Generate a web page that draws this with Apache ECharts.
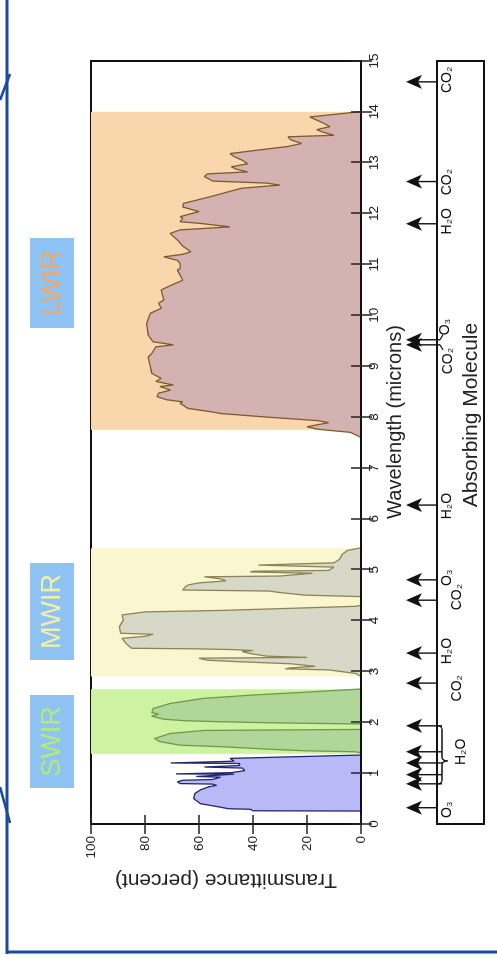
<!DOCTYPE html>
<html><head><meta charset="utf-8">
<script src="https://cdn.jsdelivr.net/npm/echarts@6/dist/echarts.min.js"></script>
<style>
html,body{margin:0;padding:0;width:497px;height:958px;overflow:hidden;background:#fff;}
#chart{position:absolute;left:0;top:0;width:958px;height:497px;transform-origin:0 0;transform:translate(0,958px) rotate(-90deg);}
</style></head><body><div id="chart"></div>
<script>
// ---- data: [wavelength (microns), transmittance (%)] ----
const visNirCurve = [[0.255,0],[0.26,40],[0.29,41],[0.30,49],[0.34,53],[0.40,59.5],[0.50,62],[0.60,61.5],[0.67,59.5],[0.73,56.5],[0.76,53.5],[0.785,55],[0.795,67],[0.83,68],[0.86,66],[0.875,55],[0.92,52],[0.935,61],[0.95,56],[0.98,47],[0.985,68.5],[1.0,69],[1.01,48],[1.05,43],[1.10,44],[1.12,58],[1.14,58],[1.15,45],[1.19,45],[1.20,70.5],[1.22,70.5],[1.235,47],[1.29,48.5],[1.356,0]];
const swirCurve = [[1.40,0],[1.42,2],[1.44,21],[1.47,34],[1.52,52],[1.55,67],[1.62,74.5],[1.68,76.5],[1.78,70.7],[1.84,58],[1.85,27],[1.86,0],[1.966,0],[1.99,34],[2.01,52],[2.03,65],[2.06,73],[2.12,77.5],[2.16,75],[2.19,77.5],[2.27,77],[2.37,70.7],[2.47,58.4],[2.536,40],[2.60,17.7],[2.654,0]];
const mwirCurve = [[2.9,0],[2.96,2],[3.03,12],[3.05,28],[3.07,26],[3.1,17],[3.15,26],[3.19,45],[3.22,57],[3.26,60],[3.275,20],[3.3,35],[3.35,41],[3.39,44],[3.41,40],[3.43,48],[3.445,63],[3.455,85],[3.5,86],[3.55,87],[3.65,88.5],[3.69,80],[3.73,77],[3.75,89],[3.88,89.5],[4.01,88],[4.11,88.5],[4.17,80],[4.2,51],[4.24,26],[4.28,2],[4.3,0],[4.47,0],[4.5,21],[4.55,30],[4.58,34],[4.6,66],[4.67,65],[4.7,64],[4.74,60],[4.78,50],[4.82,52],[4.86,58],[4.875,30],[4.93,18],[4.955,41],[4.97,40],[4.985,12],[5.05,10],[5.09,38],[5.12,38],[5.135,10],[5.2,8],[5.3,7],[5.38,5],[5.43,0]];
const lwirCurve = [[7.6,0],[7.7,4],[7.76,16],[7.81,20],[7.89,12],[7.93,16],[8.0,35],[8.07,52],[8.1,55],[8.17,64],[8.27,67],[8.3,66],[8.34,72],[8.4,75.5],[8.47,75],[8.53,70.5],[8.6,74.5],[8.63,69.5],[8.7,76],[8.76,74],[8.86,77.5],[8.99,78],[9.18,78.8],[9.25,77.5],[9.38,76],[9.42,69.5],[9.48,77],[9.61,78.8],[9.84,79.4],[10.04,78],[10.14,74],[10.24,75],[10.3,73],[10.5,74],[10.6,70],[10.69,66],[10.79,67],[10.89,68],[10.92,67],[11.02,67],[11.08,68],[11.15,73],[11.2,66],[11.25,63],[11.36,66],[11.48,68],[11.61,70.7],[11.68,67],[11.74,48.5],[11.81,60],[11.84,67],[11.91,66],[11.94,67],[12.04,60],[12.13,66],[12.2,65.8],[12.33,56],[12.46,47],[12.5,44],[12.56,30],[12.6,35],[12.64,55],[12.73,58],[12.78,57],[12.82,42],[12.87,46],[12.92,48],[12.98,42],[13.05,44],[13.12,47],[13.18,48.5],[13.25,38],[13.32,27],[13.38,22],[13.45,26],[13.51,27],[13.54,10],[13.6,14],[13.65,16.4],[13.71,11.5],[13.78,14],[13.9,19],[13.95,10],[14.0,1],[14.01,0]];

const bandNames = ['SWIR', 'MWIR', 'LWIR'];
const bandStart = [1.38, 2.9, 7.75];
const bandEnd = [2.65, 5.42, 14.0];

const wavelengthMin = 0, wavelengthMax = 15, wavelengthStep = 1;
const transMin = 0, transMax = 100, transStep = 20;

const arrowWl = [0.32, 0.79, 0.97, 1.2, 1.42, 1.93, 2.77, 3.36, 4.4, 4.8, 6.27, 9.42, 9.52, 11.8, 12.63, 14.59];
const molLabels = ['O₃', 'H₂O', 'CO₂', 'H₂O', 'CO₂', 'O₃', 'H₂O', 'CO₂', 'O₃', 'H₂O', 'CO₂', 'CO₂'];
const molLabelWl = [0.28, 1.42, 2.67, 3.4, 4.46, 4.84, 6.25, 9.1, 9.77, 11.85, 12.62, 14.63];
const braceRange = [0.79, 1.93, 1.24];   // start, end, tip
const connectorFrom = [9.42, 9.52];
const connectorTo = [9.32, 9.62];

// ---- styles / layout ----
const FONT = '"Liberation Sans", Arial, Helvetica, sans-serif';
const bandColors = ['#cdf3a2', '#faf6cf', '#fad6ac'];
const bandLabelColors = ['#b3ea78', '#f4efa6', '#f0a866'];
const bandBoxes = [[170, 93], [298, 97], [630, 90]];   // [u, length] of label boxes
const labelRowOffset = [10, 24, 20, 10, 20, 10, 10, 11, 8, 10, 10, 10];

const chart = echarts.init(document.getElementById('chart'), null, {renderer: 'canvas'});

function curveSeries(name, data, fill, stroke) {
  return {
    name: name, type: 'line', xAxisIndex: 0, yAxisIndex: 0, data: data,
    symbol: 'none', smooth: false, z: 3,
    lineStyle: {color: stroke, width: 1.3},
    areaStyle: {color: fill, opacity: 1}
  };
}

const bandAreas = bandNames.map((n, i) => [
  {xAxis: bandStart[i], yAxis: transMin, itemStyle: {color: bandColors[i], opacity: 1}},
  {xAxis: bandEnd[i], yAxis: transMax}
]);

const graphics = [];
bandNames.forEach((n, i) => {
  const b = bandBoxes[i];
  graphics.push({type: 'rect', z: 50, shape: {x: b[0], y: 30, width: b[1], height: 44}, style: {fill: '#8ec3f4'}});
  graphics.push({type: 'text', z: 51, x: b[0] + b[1] / 2, y: 53, style: {text: n, font: '27px ' + FONT, fill: bandLabelColors[i], align: 'center', verticalAlign: 'middle'}});
});
graphics.push({type: 'text', z: 51, x: 543, y: 471, style: {text: 'Absorbing Molecule', font: '21px ' + FONT, fill: '#222', align: 'center', verticalAlign: 'middle'}});
// slide frame
const blue = '#1b4c9c';
graphics.push({type: 'line', z: 60, shape: {x1: 4, y1: 7, x2: 958, y2: 7}, style: {stroke: blue, lineWidth: 3}});
graphics.push({type: 'line', z: 60, shape: {x1: 6, y1: 6, x2: 6, y2: 497}, style: {stroke: blue, lineWidth: 3}});
graphics.push({type: 'line', z: 60, shape: {x1: 858, y1: 0, x2: 884, y2: 10}, style: {stroke: blue, lineWidth: 2.5}});
graphics.push({type: 'line', z: 60, shape: {x1: 171, y1: 0, x2: 135, y2: 10}, style: {stroke: blue, lineWidth: 2.5}});

const tickStyle = {color: '#222', width: 1.5};
const labelStyle = {color: '#222', fontSize: 13.5, fontFamily: FONT};

chart.setOption({
  animation: false,
  backgroundColor: '#fff',
  graphic: graphics,
  grid: [
    {left: 134, right: 61, top: 91, bottom: 136, show: true, borderColor: '#111', borderWidth: 2, backgroundColor: 'transparent', containLabel: false, outerBoundsMode: 'none'},
    {left: 134, right: 61, top: 437, height: 47, show: true, borderColor: '#111', borderWidth: 2, backgroundColor: 'transparent', containLabel: false, outerBoundsMode: 'none'}
  ],
  xAxis: [
    {type: 'value', gridIndex: 0, position: 'bottom', min: wavelengthMin, max: wavelengthMax, interval: wavelengthStep, z: 10,
     name: 'Wavelength (microns)', nameLocation: 'middle', nameGap: 15,
     nameTextStyle: {fontSize: 20, color: '#222', fontFamily: FONT, padding: [0, 0, 0, 41]},
     axisLine: {show: true, lineStyle: {color: '#111', width: 2}},
     axisTick: {show: true, inside: true, length: 10, lineStyle: tickStyle},
     axisLabel: Object.assign({margin: 6}, labelStyle),
     splitLine: {show: false}},
    {type: 'value', gridIndex: 0, position: 'top', min: wavelengthMin, max: wavelengthMax, interval: wavelengthStep, z: 10,
     axisLine: {show: false}, axisTick: {show: true, inside: true, length: 11, lineStyle: tickStyle},
     axisLabel: {show: false}, splitLine: {show: false}},
    {type: 'value', gridIndex: 1, min: wavelengthMin, max: wavelengthMax, show: false}
  ],
  yAxis: [
    {type: 'value', gridIndex: 0, position: 'left', min: transMin, max: transMax, interval: transStep, z: 10,
     name: 'Transmittance (percent)', nameLocation: 'middle', nameGap: 40,
     nameTextStyle: {fontSize: 21, color: '#222', fontFamily: FONT},
     axisLine: {show: false}, axisTick: {show: true, inside: true, length: 9, lineStyle: tickStyle},
     axisLabel: Object.assign({margin: 12}, labelStyle), splitLine: {show: false}},
    {type: 'value', gridIndex: 0, position: 'right', min: transMin, max: transMax, interval: transStep, z: 10,
     axisLine: {show: false}, axisTick: {show: true, inside: true, length: 10, lineStyle: tickStyle},
     axisLabel: {show: false}, splitLine: {show: false}},
    {type: 'value', gridIndex: 1, min: 0, max: 1, show: false}
  ],
  series: [
    Object.assign(curveSeries('Visible / NIR', visNirCurve, '#b9b9f8', '#25256e'), {
      markArea: {silent: true, z: 1, data: bandAreas}
    }),
    curveSeries('SWIR', swirCurve, '#b1d699', '#6d9a48'),
    curveSeries('MWIR', mwirCurve, '#d8d8c9', '#8b8455'),
    curveSeries('LWIR', lwirCurve, '#d4b2b2', '#7d5a2e'),
    {
      type: 'custom', name: 'arrows', xAxisIndex: 2, yAxisIndex: 2, z: 20, silent: true,
      data: arrowWl.map(w => [w, 1]),
      renderItem: function (params, api) {
        const w = api.value(0);
        const p = api.coord([w, 1]);
        const x = p[0], top = p[1];
        const inBrace = w >= braceRange[0] - 0.001 && w <= braceRange[1] + 0.001;
        const isConn = connectorFrom.indexOf(w) >= 0;
        const end = inBrace ? top + 5 : (isConn ? top + 3 : top);
        return {type: 'group', children: [
          {type: 'line', shape: {x1: x, y1: top - 22, x2: x, y2: end}, style: {stroke: '#111', lineWidth: 1.4}},
          {type: 'polygon', shape: {points: [[x, top - 31], [x - 7, top - 15], [x, top - 19], [x + 7, top - 15]]}, style: {fill: '#111'}}
        ]};
      }
    },
    {
      type: 'custom', name: 'connectors', xAxisIndex: 2, yAxisIndex: 2, z: 20, silent: true,
      data: connectorFrom.map((w, i) => [w, connectorTo[i]]),
      renderItem: function (params, api) {
        const a = api.coord([api.value(0), 1]);
        const b = api.coord([api.value(1), 1]);
        return {type: 'line', shape: {x1: a[0], y1: a[1] + 3, x2: b[0], y2: b[1] + 6}, style: {stroke: '#111', lineWidth: 1.2}};
      }
    },
    {
      type: 'custom', name: 'brace', xAxisIndex: 2, yAxisIndex: 2, z: 20, silent: true,
      data: [braceRange],
      renderItem: function (params, api) {
        const a = api.coord([api.value(0), 1]);
        const b = api.coord([api.value(1), 1]);
        const t = api.coord([api.value(2), 1]);
        const top = a[1];
        const y0 = top + 1, y1 = top + 5, y2 = top + 11;
        const x1 = a[0], x2 = b[0], xt = t[0];
        const lo = Math.min(x1, x2), hi = Math.max(x1, x2);
        const path = 'M' + lo + ',' + y0 + ' Q' + lo + ',' + y1 + ' ' + (lo + 4) + ',' + y1 +
          ' L' + (xt - 4) + ',' + y1 + ' Q' + xt + ',' + y1 + ' ' + xt + ',' + y2 +
          ' Q' + xt + ',' + y1 + ' ' + (xt + 4) + ',' + y1 +
          ' L' + (hi - 4) + ',' + y1 + ' Q' + hi + ',' + y1 + ' ' + hi + ',' + y0;
        return {type: 'path', shape: {pathData: path}, style: {stroke: '#111', lineWidth: 1.3, fill: 'none'}};
      }
    },
    {
      type: 'custom', name: 'molecules', xAxisIndex: 2, yAxisIndex: 2, z: 20, silent: true,
      data: molLabelWl.map((w, i) => [w, i]),
      renderItem: function (params, api) {
        const i = api.value(1);
        const p = api.coord([api.value(0), 1]);
        return {type: 'text', x: p[0], y: p[1] + labelRowOffset[i], style: {text: molLabels[i], font: '14px ' + FONT, fill: '#111', align: 'center', verticalAlign: 'middle'}};
      }
    }
  ]
});
</script></body></html>
